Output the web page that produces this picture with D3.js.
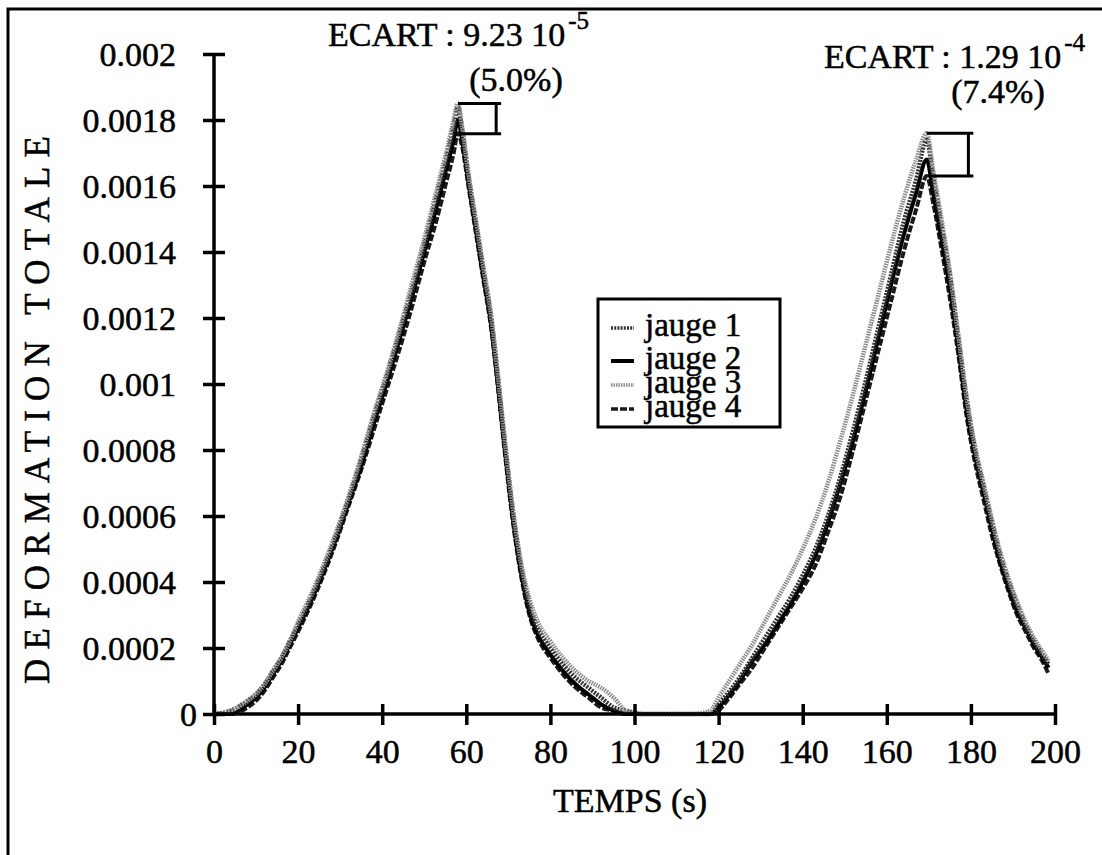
<!DOCTYPE html>
<html><head><meta charset="utf-8">
<script src="https://cdn.jsdelivr.net/npm/d3@7"></script>
<style>body{margin:0;background:#fff}svg{display:block}text{font-family:"Liberation Serif","Times New Roman",serif;fill:#000;stroke:#000;stroke-width:0.5px}</style>
</head><body><svg id="c" width="1102" height="855"></svg>
<script>
const time = [0,4,8,10,12,14,16,18,20,23,26,29,32,35,38,41,44,47,50,53,55,57,58,59,60.5,62,64,66,67.5,69,71,73,75,77,80,83,86,89,92,95,98,102,106,110,114,118,120,122,125,128,131,134,137,140,143,146,149,152,155,158,161,164,167,169.5,171,173,175,177,179,181,183,185,187,189,191,193,195,197,198.5];
const jauge1 = [0,0.00001,0.00004,0.00006,0.00009,0.00013,0.00017,0.00022,0.00027,0.00035,0.00044,0.00054,0.00065,0.00077,0.0009,0.00102,0.00115,0.00128,0.00142,0.00157,0.00167,0.00178,0.00184,0.00177,0.00163,0.00151,0.00135,0.00119,0.00102,0.00084,0.00062,0.00045,0.00033,0.00026,0.0002,0.00015,0.00011,0.00008,0.00005,0.00002,0.00001,0,0,0,0,0,0.00003,0.00006,0.00011,0.00017,0.00023,0.00029,0.00035,0.00042,0.0005,0.0006,0.00072,0.00086,0.00101,0.00117,0.00133,0.00149,0.00162,0.00174,0.00163,0.00148,0.00133,0.00114,0.00095,0.0008,0.00069,0.00058,0.00048,0.0004,0.00033,0.00027,0.00022,0.00018,0.00015];
const jauge2 = [0,0,0.00003,0.00005,0.00008,0.00012,0.00016,0.00021,0.00026,0.00034,0.00043,0.00053,0.00064,0.00075,0.00088,0.001,0.00113,0.00126,0.0014,0.00154,0.00164,0.00174,0.0018,0.00174,0.00161,0.00149,0.00133,0.00117,0.001,0.00082,0.0006,0.00043,0.00031,0.00024,0.00018,0.00013,0.00009,0.00006,0.00003,0.00001,0,0,0,0,0,0,0.00002,0.00005,0.0001,0.00016,0.00021,0.00027,0.00033,0.0004,0.00048,0.00058,0.0007,0.00083,0.00098,0.00114,0.0013,0.00145,0.00158,0.00168,0.00158,0.00144,0.00129,0.00111,0.00092,0.00078,0.00067,0.00056,0.00046,0.00038,0.00031,0.00026,0.00021,0.00017,0.00014];
const jauge3 = [0,0.00001,0.00004,0.00006,0.00009,0.00013,0.00017,0.00022,0.00028,0.00036,0.00045,0.00055,0.00066,0.00078,0.00091,0.00103,0.00116,0.0013,0.00144,0.00159,0.00169,0.0018,0.00185,0.00178,0.00164,0.00152,0.00136,0.0012,0.00103,0.00085,0.00063,0.00046,0.00035,0.00028,0.00022,0.00017,0.00013,0.0001,0.00008,0.00005,0.00001,0,0,0,0,0.00001,0.00005,0.00009,0.00015,0.00021,0.00028,0.00035,0.00042,0.0005,0.00059,0.0007,0.00083,0.00097,0.00112,0.00127,0.00142,0.00156,0.00168,0.00176,0.00165,0.0015,0.00134,0.00115,0.00096,0.00081,0.0007,0.00059,0.00049,0.00041,0.00034,0.00028,0.00023,0.00019,0.00016];
const jauge4 = [0,0,0.00002,0.00004,0.00007,0.00011,0.00015,0.0002,0.00025,0.00033,0.00042,0.00052,0.00063,0.00074,0.00086,0.00098,0.0011,0.00123,0.00137,0.0015,0.0016,0.0017,0.00176,0.00172,0.0016,0.00148,0.00132,0.00116,0.00099,0.00081,0.00059,0.00042,0.0003,0.00023,0.00017,0.00012,0.00008,0.00005,0.00002,0.00001,0,0,0,0,0,0,0.00001,0.00004,0.00009,0.00014,0.0002,0.00026,0.00032,0.00038,0.00045,0.00055,0.00066,0.0008,0.00095,0.0011,0.00125,0.0014,0.00153,0.00163,0.00155,0.00141,0.00126,0.00109,0.0009,0.00076,0.00065,0.00054,0.00045,0.00037,0.0003,0.00025,0.0002,0.00016,0.00012];
const seriesNames = ["jauge 1","jauge 2","jauge 3","jauge 4"];
const xTicks = [0,20,40,60,80,100,120,140,160,180,200];
const yTicks = [0,0.0002,0.0004,0.0006,0.0008,0.001,0.0012,0.0014,0.0016,0.0018,0.002];
const yTickLabels = ["0","0.0002","0.0004","0.0006","0.0008","0.001","0.0012","0.0014","0.0016","0.0018","0.002"];
const ecartPeak = [58,169.5];
const ecartRight = [67.1,179.4];
const ecartTop = [0.00185,0.00176];
const ecartBottom = [0.001758,0.00163];
const ecartText = ["ECART : 9.23 10","ECART : 1.29 10"];
const ecartExp = ["-5","-4"];
const ecartPct = ["(5.0%)","(7.4%)"];

const svg = d3.select("#c");
const x = d3.scaleLinear().domain([0,200]).range([214,1055]);
const y = d3.scaleLinear().domain([0,0.002]).range([714,54]);

// frame (top and left edges of scanned page)
svg.append("path").attr("d","M8,855 L8,9 L1102,9").attr("fill","none").attr("stroke","#000").attr("stroke-width",3);

const styles = [
  {color:"#333", width:4.5, dash:"2,1.2"},
  {color:"#000", width:4, dash:null},
  {color:"#8c8c8c", width:4.5, dash:"1.5,1"},
  {color:"#1a1a1a", width:4, dash:"7,2"}
];
const allSeries = [jauge1,jauge2,jauge3,jauge4];
const line = d3.line().x((d,i)=>x(time[i])).y(d=>y(d)).curve(d3.curveMonotoneX);
[3,1,0,2].forEach(k=>{
  svg.append("path").datum(allSeries[k]).attr("d",line)
    .attr("fill","none").attr("stroke",styles[k].color).attr("stroke-width",styles[k].width)
    .attr("stroke-dasharray",styles[k].dash).attr("stroke-linejoin","round");
});

// axes
const xAxis = d3.axisBottom(x).tickValues(xTicks).tickSize(0).tickFormat(d3.format("d"));
const gx = svg.append("g").attr("transform","translate(0,714)").call(xAxis);
gx.attr("font-family",null);
gx.select(".domain").attr("stroke","#000").attr("stroke-width",3.5).attr("d",`M${x(0)},0H${x(200)}`);
gx.selectAll("text").attr("font-size",34).attr("dy",null).attr("y",49);
gx.selectAll(".tick").append("line").attr("y1",-10).attr("y2",11).attr("stroke","#000").attr("stroke-width",3.5);

const yAxis = d3.axisLeft(y).tickValues(yTicks).tickSize(0).tickFormat((d,i)=>yTickLabels[i]);
const gy = svg.append("g").attr("transform","translate(214,0)").call(yAxis);
gy.attr("font-family",null);
gy.select(".domain").attr("stroke","#000").attr("stroke-width",3.5).attr("d",`M0,${y(0)}V${y(0.002)}`);
gy.selectAll("text").attr("font-size",34).attr("dy","0.34em").attr("x",d=>d===0?-17:-38);
gy.selectAll(".tick").append("line").attr("x1",-11).attr("x2",11).attr("stroke","#000").attr("stroke-width",3.5);

// axis titles
svg.append("text").attr("x",630).attr("y",812).attr("text-anchor","middle").attr("font-size",34).text("TEMPS (s)");
svg.append("text").attr("transform","translate(49,410) rotate(-90)").attr("text-anchor","middle")
  .attr("font-size",35).attr("textLength",548).attr("lengthAdjust","spacing").text("DEFORMATION TOTALE");

// ecart brackets
ecartPeak.forEach((p,i)=>{
  const xr = x(ecartRight[i]);
  const g = svg.append("g").attr("stroke","#000").attr("stroke-width",3).attr("fill","none");
  g.append("line").attr("x1",x(p)).attr("x2",xr+5).attr("y1",y(ecartTop[i])).attr("y2",y(ecartTop[i]));
  g.append("line").attr("x1",x(p+0.4)).attr("x2",xr+5).attr("y1",y(ecartBottom[i])).attr("y2",y(ecartBottom[i]));
  g.append("line").attr("x1",xr).attr("x2",xr).attr("y1",y(ecartTop[i])).attr("y2",y(ecartBottom[i]));
});
// ecart labels
const lab = [{x:328,y:46,px:516,py:91},{x:824,y:68,px:998,py:103}];
lab.forEach((l,i)=>{
  const t = svg.append("text").attr("x",l.x).attr("y",l.y).attr("font-size",34);
  t.append("tspan").text(ecartText[i]);
  t.append("tspan").attr("dx",3).attr("dy",-17).attr("font-size",25).text(ecartExp[i]);
  svg.append("text").attr("x",l.px).attr("y",l.py).attr("text-anchor","middle").attr("font-size",34).text(ecartPct[i]);
});

// legend
const lg = svg.append("g");
lg.append("rect").attr("x",598).attr("y",299).attr("width",182).attr("height",128).attr("fill","#fff").attr("stroke","#000").attr("stroke-width",3);
const legY = [336,369,393,417];
seriesNames.forEach((n,k)=>{
  lg.append("line").attr("x1",611).attr("x2",634).attr("y1",legY[k]-8).attr("y2",legY[k]-8)
    .attr("stroke",styles[k].color).attr("stroke-width",k===1?4:3.5).attr("stroke-dasharray",styles[k].dash);
  lg.append("text").attr("x",645).attr("y",legY[k]).attr("font-size",33).text(n);
});
</script></body></html>
